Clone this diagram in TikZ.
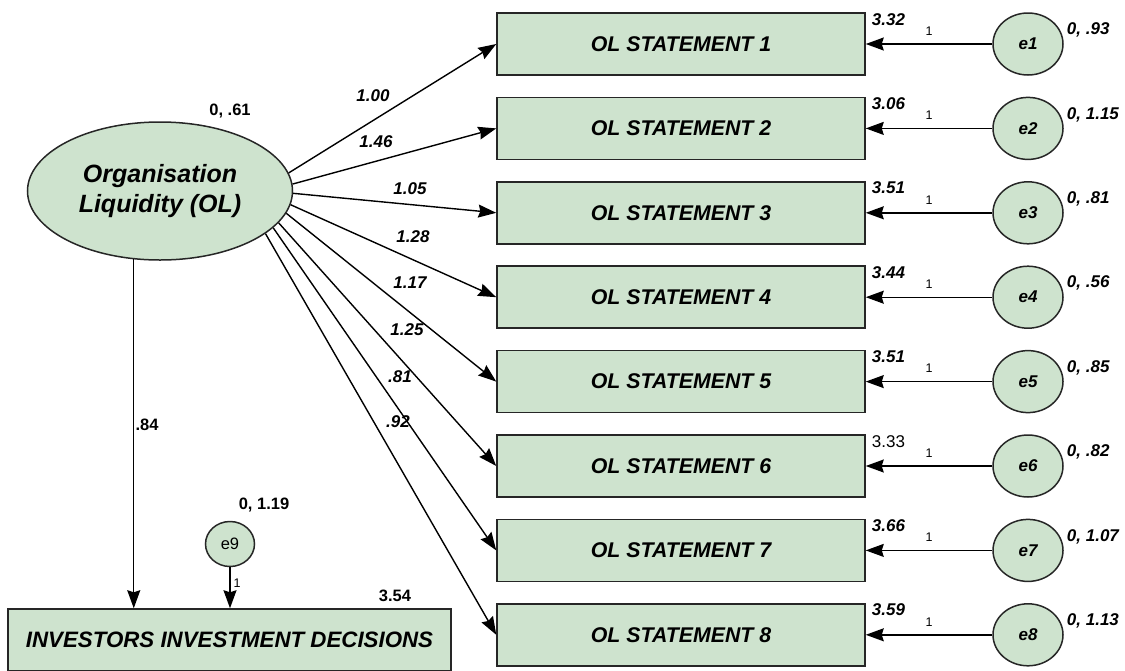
\documentclass[tikz,border=0pt]{standalone}
\usepackage{fontspec}
\setmainfont{Liberation Sans}
\usetikzlibrary{arrows.meta,shapes.geometric,calc}
\definecolor{amos}{RGB}{206,227,206}
\begin{document}
\begin{tikzpicture}[x=1pt,y=-1pt,
  obs/.style={draw=black!85,line width=1.5pt,fill=amos,minimum width=368pt,minimum height=62pt,inner sep=0pt,font=\fontsize{21.3}{24}\selectfont\bfseries\itshape},
  err/.style={ellipse,draw=black!85,line width=1.5pt,fill=amos,minimum width=70pt,minimum height=62pt,inner sep=0pt,font=\fontsize{17}{20}\selectfont\bfseries\itshape},
  lat/.style={ellipse,draw=black!85,line width=1.5pt,fill=amos,minimum width=265pt,minimum height=138pt,inner sep=0pt,align=center,font=\fontsize{25}{30}\selectfont\bfseries\itshape},
  arr/.style={line width=1.4pt,-{Stealth[length=18pt,width=13pt,inset=2pt]}},
  lbl/.style={font=\fontsize{17}{20}\selectfont\bfseries\itshape,inner sep=0pt},
  plbl/.style={font=\fontsize{16.5}{20}\selectfont\bfseries,inner sep=0pt},
  one/.style={font=\fontsize{12.5}{14}\selectfont,inner sep=0pt},
]
\useasboundingbox (0,0) rectangle (1125,670);

% latent variable
\node[lat] (OL) at (160,191) {Organisation\\Liquidity (OL)};
\node[plbl] (OLv) at (230,111) {0, .61};

% observed statements with errors
\foreach \k/\m/\v in {1/3.32/{0, .93},2/3.06/{0, 1.15},3/3.51/{0, .81},4/3.44/{0, .56},5/3.51/{0, .85},6/{\mdseries\upshape 3.33}/{0, .82},7/3.66/{0, 1.07},8/3.59/{0, 1.13}}{
  \pgfmathsetmacro\yy{44+(\k-1)*84.4}
  \node[obs] (b\k) at (681,\yy) {OL STATEMENT \k};
  \node[err] (e\k) at (1028,\yy) {e\k};
  \draw[arr] (e\k) -- node[one,above=8pt,pos=0.5]{1} (b\k);
  \node[lbl,anchor=west] (m\k) at ($(b\k.north east)+(6,7)$) {\m};
  \node[lbl,anchor=west] (v\k) at ($(e\k.east)+(3,-14)$) {\v};
}

% loadings
\draw[arr] (OL.8) -- (b1.west);
\draw[arr] (OL.3.5) -- (b2.west);
\draw[arr] (OL.-1.3) -- (b3.west);
\draw[arr] (OL.-6.6) -- (b4.west);
\draw[arr] (OL.-10.9) -- (b5.west);
\draw[arr] (OL.-15) -- (b6.west);
\draw[arr] (OL.-18.7) -- (b7.west);
\draw[arr] (OL.-22.7) -- (b8.west);

\node[lbl] (l1) at (373,96) {1.00};
\node[lbl] (l2) at (376,142) {1.46};
\node[lbl] (l3) at (410,189) {1.05};
\node[lbl] (l4) at (413,237) {1.28};
\node[lbl] (l5) at (410,283) {1.17};
\node[lbl] (l6) at (407,330) {1.25};
\node[lbl] (l7) at (400,377) {.81};
\node[lbl] (l8) at (398,422) {.92};

% dependent variable
\node[obs,minimum width=443pt,font=\fontsize{22.3}{26}\selectfont\bfseries\itshape] (IID) at (229.5,640) {INVESTORS INVESTMENT DECISIONS};
\node[plbl] (IIDm) at (395,596) {3.54};

\node[err,minimum width=49pt,minimum height=45pt,font=\fontsize{16.5}{20}\selectfont] (e9) at (230,544) {e9};
\node[plbl] (e9v) at (264,505) {0, 1.19};
\draw[arr] (e9.south) -- node[one,right=3pt,pos=0.4]{1} (e9.south |- IID.north);

\draw[arr] (OL.-111) -- (OL.-111 |- IID.north);
\node[plbl] (l9) at (147,425) {.84};
\end{tikzpicture}
\end{document}
